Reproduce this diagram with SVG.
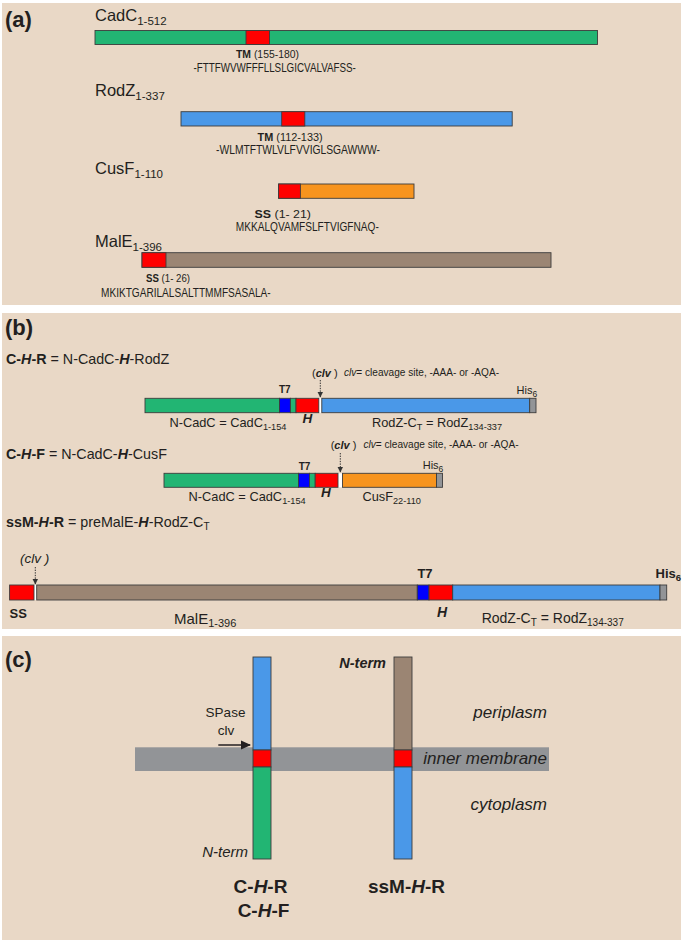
<svg xmlns="http://www.w3.org/2000/svg" width="683" height="948" viewBox="0 0 683 948">
<defs>
<style>
text{font-family:"Liberation Sans",Arial,sans-serif;fill:#231f20}
.panel{fill:#e9d8c6}
.plab{font-size:22px;font-weight:bold}
.lbl{font-size:16.5px}
.sub{font-size:11.5px}
.tm{font-size:11px}
.seq{font-size:12px}
.b{font-weight:bold}
.bi{font-weight:bold;font-style:italic}
.it{font-style:italic}
.seg{stroke:#3c3c3c;stroke-width:0.9}
.g{fill:#22b573}.bl{fill:#4a98e8}.r{fill:#ff0000}.o{fill:#f7941e}.br{fill:#9b8573}.t7{fill:#0000ff}.hs{fill:#929497}.w{fill:#ffffff}
.dot{stroke:#333;stroke-width:1;stroke-dasharray:1.4 1.2;fill:none}
.comp{font-size:12.8px}
.csub{font-size:9.2px}
.hdr{font-size:14.3px}
.loc{font-size:17px;font-style:italic}
.cname{font-size:19px;font-weight:bold}
.clvp{font-size:11px}
.clvd{font-size:10.5px}
</style>
<marker id="ah" markerWidth="6" markerHeight="6" refX="5.5" refY="3" orient="auto" markerUnits="userSpaceOnUse"><path d="M0,0 L6,3 L0,6 z" fill="#333"/></marker>
<marker id="ahb" markerWidth="10" markerHeight="10" refX="9" refY="5" orient="auto" markerUnits="userSpaceOnUse"><path d="M0,0.5 L10,5 L0,9.5 z" fill="#231f20"/></marker>
</defs>
<rect width="683" height="948" fill="#ffffff"/>
<rect class="panel" x="2" y="3" width="679" height="302"/>
<rect class="panel" x="2" y="313" width="679" height="316"/>
<rect class="panel" x="2" y="636" width="679" height="304"/>

<!-- Panel a -->
<text class="plab" x="5" y="27">(a)</text>
<g id="cadc">
<text class="lbl" x="95" y="21">CadC<tspan class="sub" dy="4">1-512</tspan></text>
<rect class="seg g" x="95" y="30.5" width="502.5" height="14"/>
<rect class="seg r" x="246" y="30.5" width="23.5" height="14"/>
<text class="tm" x="236" y="58" textLength="63" lengthAdjust="spacingAndGlyphs"><tspan class="b">TM</tspan> (155-180)</text>
<text class="seq" x="193.4" y="71.5" textLength="162.5" lengthAdjust="spacingAndGlyphs">-FTTFWVWFFFLLSLGICVALVAFSS-</text>
</g>
<g id="rodz">
<text class="lbl" x="95" y="96">RodZ<tspan class="sub" dy="4">1-337</tspan></text>
<rect class="seg bl" x="181" y="111.7" width="331.2" height="14.3"/>
<rect class="seg r" x="281.7" y="111.7" width="23.1" height="14.3"/>
<text class="tm" x="257.6" y="140.5" textLength="65" lengthAdjust="spacingAndGlyphs"><tspan class="b">TM</tspan> (112-133)</text>
<text class="seq" x="216" y="153.5" textLength="164" lengthAdjust="spacingAndGlyphs">-WLMTFTWLVLFVVIGLSGAWWW-</text>
</g>
<g id="cusf">
<text class="lbl" x="95" y="174">CusF<tspan class="sub" dy="4">1-110</tspan></text>
<rect class="seg o" x="278.6" y="184" width="135.4" height="14.3"/>
<rect class="seg r" x="278.6" y="184" width="21.8" height="14.3"/>
<text class="tm" x="254.6" y="218" textLength="56.4" lengthAdjust="spacingAndGlyphs"><tspan class="b">SS</tspan> (1- 21)</text>
<text class="seq" x="235.8" y="231" textLength="143" lengthAdjust="spacingAndGlyphs">MKKALQVAMFSLFTVIGFNAQ-</text>
</g>
<g id="male">
<text class="lbl" x="95" y="247">MalE<tspan class="sub" dy="4">1-396</tspan></text>
<rect class="seg br" x="142" y="252.7" width="409" height="14.6"/>
<rect class="seg r" x="142" y="252.7" width="24" height="14.6"/>
<text class="tm" x="146" y="282" textLength="44" lengthAdjust="spacingAndGlyphs"><tspan class="b">SS</tspan> (1- 26)</text>
<text class="seq" x="101" y="297" textLength="169.7" lengthAdjust="spacingAndGlyphs">MKIKTGARILALSALTTMMFSASALA-</text>
</g>

<!-- Panel b -->
<text class="plab" x="5" y="335">(b)</text>
<g id="chr">
<text class="hdr" x="6" y="364"><tspan class="b">C-</tspan><tspan class="bi">H</tspan><tspan class="b">-R</tspan> = N-CadC-<tspan class="bi">H</tspan>-RodZ</text>
<text class="clvp" x="312" y="376.5">(<tspan class="bi">clv</tspan> )</text>
<text class="clvd" x="344" y="375.5" textLength="155" lengthAdjust="spacingAndGlyphs"><tspan class="it">clv</tspan>= cleavage site, -AAA- or -AQA-</text>
<text class="b" x="284.8" y="393" font-size="10" text-anchor="middle">T7</text>
<text x="516.6" y="394" font-size="11">His<tspan font-size="8.5" dy="3">6</tspan></text>
<rect class="w" x="318.8" y="398.3" width="3" height="14.4"/>
<rect class="seg g" x="145" y="398.3" width="134.5" height="14.4"/>
<rect class="seg t7" x="279.5" y="398.3" width="10.9" height="14.4"/>
<rect class="seg g" x="290.4" y="398.3" width="5.6" height="14.4"/>
<rect class="seg r" x="296" y="398.3" width="22.8" height="14.4"/>
<rect class="seg bl" x="321.8" y="398.3" width="207.9" height="14.4"/>
<rect class="seg hs" x="529.7" y="398.3" width="6.3" height="14.4"/>
<text class="comp" x="169.4" y="427">N-CadC = CadC<tspan class="csub" dy="3">1-154</tspan></text>
<text class="bi" x="302.6" y="423" font-size="13.5">H</text>
<text class="comp" x="372" y="427">RodZ-C<tspan class="csub" dy="3">T</tspan><tspan dy="-3"> = RodZ</tspan><tspan class="csub" dy="3">134-337</tspan></text>
</g>
<g id="chf">
<text class="hdr" x="6" y="458.5"><tspan class="b">C-</tspan><tspan class="bi">H</tspan><tspan class="b">-F</tspan> = N-CadC-<tspan class="bi">H</tspan>-CusF</text>
<text class="clvp" x="330.7" y="449">(<tspan class="bi">clv</tspan> )</text>
<text class="clvd" x="363.5" y="448" textLength="155" lengthAdjust="spacingAndGlyphs"><tspan class="it">clv</tspan>= cleavage site, -AAA- or -AQA-</text>
<text class="b" x="304.5" y="469.5" font-size="10" text-anchor="middle">T7</text>
<text x="422.7" y="469" font-size="11">His<tspan font-size="8.5" dy="3">6</tspan></text>
<rect class="w" x="338" y="473.3" width="4.5" height="14"/>
<rect class="seg g" x="164" y="473.3" width="134.5" height="14"/>
<rect class="seg t7" x="298.5" y="473.3" width="11" height="14"/>
<rect class="seg g" x="309.5" y="473.3" width="5.7" height="14"/>
<rect class="seg r" x="315.2" y="473.3" width="22.8" height="14"/>
<rect class="seg o" x="342.5" y="473.3" width="94" height="14"/>
<rect class="seg hs" x="436.5" y="473.3" width="6" height="14"/>
<text class="comp" x="188.6" y="501">N-CadC = CadC<tspan class="csub" dy="3">1-154</tspan></text>
<text class="bi" x="321" y="497" font-size="13.5">H</text>
<text class="comp" x="362.4" y="501">CusF<tspan class="csub" dy="3">22-110</tspan></text>
</g>
<g id="ssmhr">
<text class="hdr" x="6" y="527"><tspan class="b">ssM-</tspan><tspan class="bi">H</tspan><tspan class="b">-R</tspan> = preMalE-<tspan class="bi">H</tspan>-RodZ-C<tspan font-size="10" dy="3">T</tspan></text>
<text class="it" x="20" y="563" font-size="13.5">(clv )</text>
<text class="b" x="425" y="578" font-size="13" text-anchor="middle">T7</text>
<text class="b" x="655.5" y="578" font-size="13">His<tspan font-size="9.5" dy="3">6</tspan></text>
<rect class="w" x="34" y="585" width="2.7" height="15"/>
<rect class="seg r" x="9.6" y="585" width="24.4" height="15"/>
<rect class="seg br" x="36.7" y="585" width="380.6" height="15"/>
<rect class="seg t7" x="417.3" y="585" width="11.7" height="15"/>
<rect class="seg r" x="429" y="585" width="23.7" height="15"/>
<rect class="seg bl" x="452.7" y="585" width="207.3" height="15"/>
<rect class="seg hs" x="660" y="585" width="6.7" height="15"/>
<text class="b" x="9.6" y="618" font-size="13">SS</text>
<text x="174" y="624" font-size="15">MalE<tspan font-size="11" dy="3">1-396</tspan></text>
<text class="bi" x="437" y="617" font-size="14">H</text>
<text x="481.7" y="623" font-size="14">RodZ-C<tspan font-size="10" dy="3">T</tspan><tspan dy="-3"> = RodZ</tspan><tspan font-size="10" dy="3">134-337</tspan></text>
</g>

<!-- Panel c -->
<text class="plab" x="5" y="667">(c)</text>
<rect id="membrane" x="135" y="747.3" width="414" height="23.7" fill="#929497"/>
<g id="bar-chr">
<rect class="seg bl" x="253" y="657" width="18" height="93"/>
<rect class="seg r" x="253" y="750" width="18" height="17"/>
<rect class="seg g" x="253" y="767" width="18" height="92"/>
<text class="it" x="248" y="857" font-size="15" text-anchor="end">N-term</text>
<text x="225.5" y="717" font-size="13.5" text-anchor="middle">SPase</text>
<text x="226" y="735" font-size="13.5" text-anchor="middle">clv</text>
<text class="cname" x="260.5" y="893" text-anchor="middle">C-<tspan font-style="italic">H</tspan>-R</text>
<text class="cname" x="263.5" y="917" text-anchor="middle">C-<tspan font-style="italic">H</tspan>-F</text>
</g>
<g id="bar-ssmhr">
<rect class="seg br" x="394" y="657" width="18" height="93"/>
<rect class="seg r" x="394" y="750" width="18" height="17"/>
<rect class="seg bl" x="394" y="767" width="18" height="92"/>
<text class="bi" x="386" y="668" font-size="14.5" text-anchor="end">N-term</text>
<text class="cname" x="406.5" y="893" text-anchor="middle">ssM-<tspan font-style="italic">H</tspan>-R</text>
</g>
<g id="regions">
<text class="loc" x="547" y="718" text-anchor="end">periplasm</text>
<text class="loc" x="547" y="764" text-anchor="end">inner membrane</text>
<text class="loc" x="547" y="810" text-anchor="end">cytoplasm</text>
</g>

<g id="connectors">
<line class="dot" x1="320.3" y1="380" x2="320.3" y2="397" marker-end="url(#ah)"/>
<line class="dot" x1="340.3" y1="453" x2="340.3" y2="472" marker-end="url(#ah)"/>
<line class="dot" x1="35.3" y1="567" x2="35.3" y2="584" marker-end="url(#ah)"/>
<line x1="218.3" y1="745" x2="250" y2="745" stroke="#231f20" stroke-width="1.5" marker-end="url(#ahb)"/>
</g>
</svg>
